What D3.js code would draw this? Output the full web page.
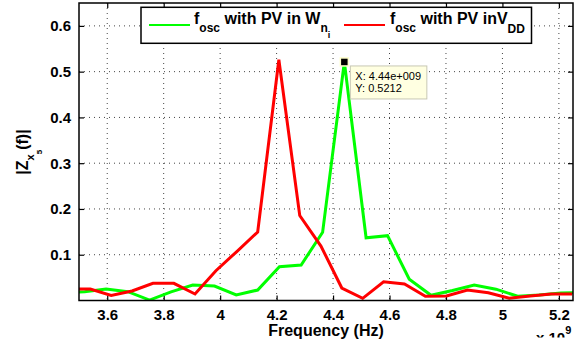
<!DOCTYPE html>
<html><head><meta charset="utf-8">
<script src="https://cdn.jsdelivr.net/npm/d3@7"></script>
<style>html,body{margin:0;padding:0;background:#fff}svg{display:block}text{font-family:"Liberation Sans",Arial,sans-serif}</style>
</head><body><svg id="c" width="587" height="349"></svg>
<script>
// Frequencies in GHz (axis shows x 10^9)
const greenFreq = [3.443,3.520,3.596,3.673,3.750,3.826,3.903,3.980,4.057,4.133,4.210,4.287,4.363,4.440,4.517,4.593,4.670,4.747,4.823,4.900,4.977,5.054,5.130,5.207,5.284];
const greenVals = [0.017,0.019,0.0251,0.0192,0.001,0.019,0.0339,0.0317,0.012,0.0229,0.0738,0.0776,0.149,0.5212,0.137,0.1416,0.0465,0.0114,0.0218,0.0339,0.0247,0.0092,0.012,0.0164,0.0175];
const redFreq = [3.466,3.540,3.614,3.688,3.762,3.836,3.911,3.985,4.059,4.133,4.208,4.282,4.357,4.431,4.505,4.579,4.653,4.727,4.802,4.876,4.950,5.024,5.098,5.173,5.247];
const redVals = [0.025,0.0251,0.0109,0.0208,0.0376,0.0376,0.0142,0.0651,0.107,0.1497,0.526,0.1857,0.119,0.0273,0.0048,0.041,0.036,0.0092,0.0098,0.0229,0.017,0.0048,0.0098,0.0142,0.0142];
const xTicks = [3.6,3.8,4.0,4.2,4.4,4.6,4.8,5.0,5.2];
const yTicks = [0.1,0.2,0.3,0.4,0.5,0.6];
const xDomain = [3.5, 5.25];
const yDomain = [0, 0.65];
const tip = {x: 4.44, y: 0.5212, l1: "X: 4.44e+009", l2: "Y: 0.5212"};

const L = 79, R = 573, T = 3, B = 300.5;
const svg = d3.select("#c");
const x = d3.scaleLinear().domain(xDomain).range([L, R]);
const y = d3.scaleLinear().domain(yDomain).range([B, T]);

// grid
const g = svg.append("g");
g.selectAll(".vg").data(xTicks).join("line")
  .attr("x1", d => x(d)).attr("x2", d => x(d)).attr("y1", T).attr("y2", B)
  .attr("stroke", "#444").attr("stroke-width", 1).attr("stroke-dasharray", "1,4");
g.selectAll(".hg").data(yTicks).join("line")
  .attr("x1", L).attr("x2", R).attr("y1", d => y(d)).attr("y2", d => y(d))
  .attr("stroke", "#444").attr("stroke-width", 1).attr("stroke-dasharray", "1,4");

// axes (ticks inward on all sides)
const tl = 5;
const axB = d3.axisBottom(x).tickValues(xTicks).tickSize(-tl).tickFormat(d3.format("~g")).tickPadding(9);
const axT = d3.axisTop(x).tickValues(xTicks).tickSize(-tl).tickFormat("");
const axL = d3.axisLeft(y).tickValues(yTicks).tickSize(-tl).tickFormat(d3.format(".1f")).tickPadding(8);
const axR = d3.axisRight(y).tickValues(yTicks).tickSize(-tl).tickFormat("");
function style(sel){
  sel.select(".domain").remove();
  sel.selectAll("line").attr("stroke","#000").attr("stroke-width",1.2);
  sel.selectAll("text").attr("fill","#000").attr("font-size","15px").attr("font-weight","bold");
}
svg.append("g").attr("transform",`translate(0,${B})`).call(axB).call(style);
svg.append("g").attr("transform",`translate(0,${T})`).call(axT).call(style);
svg.append("g").attr("transform",`translate(${L},0)`).call(axL).call(style);
svg.append("g").attr("transform",`translate(${R},0)`).call(axR).call(style);

// clip
svg.append("clipPath").attr("id","clip").append("rect").attr("x",L).attr("y",T).attr("width",R-L).attr("height",B-T);
const line = d3.line().x(d => x(d[0])).y(d => y(d[1]));
const pg = svg.append("g").attr("clip-path","url(#clip)");
pg.append("path").datum(greenFreq.map((f,i)=>[f,greenVals[i]]))
  .attr("d", line).attr("fill","none").attr("stroke","#00ff00").attr("stroke-width",3).attr("stroke-linejoin","miter");
pg.append("path").datum(redFreq.map((f,i)=>[f,redVals[i]]))
  .attr("d", line).attr("fill","none").attr("stroke","#ff0000").attr("stroke-width",3).attr("stroke-linejoin","miter");

// box
svg.append("rect").attr("x",L).attr("y",T).attr("width",R-L).attr("height",B-T)
  .attr("fill","none").attr("stroke","#000").attr("stroke-width",1.5);

// axis labels
svg.append("text").attr("x", 326).attr("y", 336).attr("text-anchor","middle")
  .attr("font-size","16px").attr("font-weight","bold").text("Frequency (Hz)");
const yl = svg.append("text").attr("transform","translate(28,152) rotate(-90)")
  .attr("text-anchor","middle").attr("font-size","16px").attr("font-weight","bold");
yl.append("tspan").text("|Z");
yl.append("tspan").attr("dy",6).attr("font-size","11px").text("x");
yl.append("tspan").attr("dy",8).attr("font-size","8px").text("5");
yl.append("tspan").attr("dy",-14).text("(f)|");

// x 10^9 (partly cut off at the bottom, as in the source image)
const ex = svg.append("text").attr("x", 536).attr("y", 343).attr("font-size","15px").attr("font-weight","bold");
ex.append("tspan").text("x 10");
ex.append("tspan").attr("dy",-9.5).attr("font-size","11px").text("9");
svg.append("rect").attr("x",520).attr("y",337.5).attr("width",67).attr("height",12).attr("fill","#fff");

// legend
const lg = svg.append("g");
lg.append("rect").attr("x",141).attr("y",7.3).attr("width",390.5).attr("height",36)
  .attr("fill","#fff").attr("stroke","#000").attr("stroke-width",1.5);
lg.append("line").attr("x1",149).attr("x2",190).attr("y1",25).attr("y2",25).attr("stroke","#00ff00").attr("stroke-width",2);
lg.append("line").attr("x1",344).attr("x2",385).attr("y1",25).attr("y2",25).attr("stroke","#ff0000").attr("stroke-width",2);
const t1 = lg.append("text").attr("x",194).attr("y",23.5).attr("font-size","16px").attr("font-weight","bold");
t1.append("tspan").text("f");
t1.append("tspan").attr("dy",8).attr("font-size","12px").text("osc");
t1.append("tspan").attr("dy",-8).text(" with PV in W");
t1.append("tspan").attr("dy",8.5).attr("font-size","12px").text("n");
t1.append("tspan").attr("dy",6).attr("font-size","9px").text("i");
const t2 = lg.append("text").attr("x",390).attr("y",23.5).attr("font-size","16px").attr("font-weight","bold");
t2.append("tspan").text("f");
t2.append("tspan").attr("dy",8).attr("font-size","12px").text("osc");
t2.append("tspan").attr("dy",-8).text(" with PV inV");
t2.append("tspan").attr("dy",9.5).attr("font-size","12px").text("DD");

// datatip
const tx = x(tip.x), ty = y(tip.y);
svg.append("rect").attr("x",tx+6).attr("y",ty+4).attr("width",76.5).attr("height",33)
  .attr("fill","#ffffe1").attr("stroke","#c8c8b4").attr("stroke-width",1);
svg.append("text").attr("x",tx+11).attr("y",ty+18.5).attr("font-size","11px").text(tip.l1);
svg.append("text").attr("x",tx+11).attr("y",ty+30).attr("font-size","11px").text(tip.l2);
svg.append("rect").attr("x",tx-4).attr("y",ty-4).attr("width",8).attr("height",8)
  .attr("fill","#000").attr("stroke","#ffffcc").attr("stroke-width",1.5);
</script></body></html>
